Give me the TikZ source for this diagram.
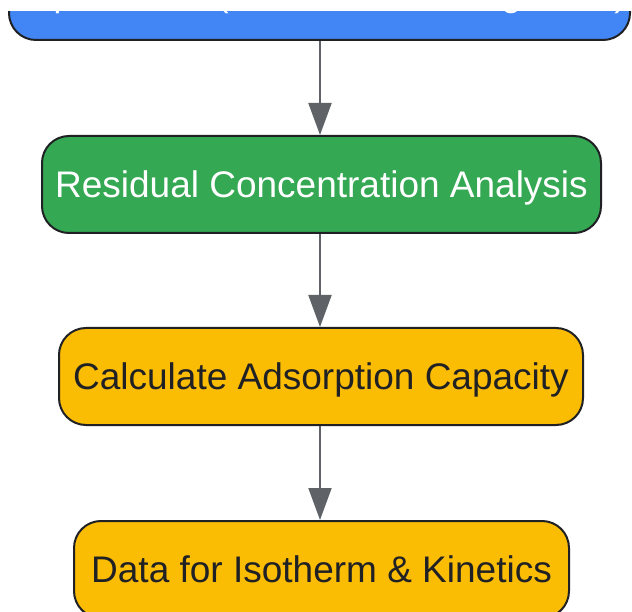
\documentclass[tikz,border=0pt]{standalone}
\usepackage{fontspec}
\setmainfont{Liberation Sans}
\usetikzlibrary{arrows.meta}
\definecolor{gblue}{HTML}{4285F4}
\definecolor{ggreen}{HTML}{34A853}
\definecolor{gyellow}{HTML}{FBBC04}
\definecolor{gdark}{HTML}{202124}
\definecolor{ggray}{HTML}{5F6368}
\tikzset{
  box/.style={draw=gdark, line width=2pt, rounded corners=27pt, inner sep=0pt,
    font=\fontsize{37}{44}\selectfont, text height=26.5pt, text depth=0pt,
    minimum height=97pt},
  conn/.style={draw=ggray, line width=2pt, -{Triangle[length=32pt,width=23pt]}}
}
\begin{document}
\begin{tikzpicture}[x=1pt,y=-1pt]
\useasboundingbox (0,0) rectangle (632,612);
\fill[white] (0,0) rectangle (632,612);
\begin{scope}
\clip (0,12) rectangle (632,612);
\node[box, fill=gblue, text=white, minimum width=621pt, minimum height=92pt,
  font=\fontsize{35}{42}\selectfont, text height=25pt] (exp) at (319.5,-6) {Experiments (Contact Time \& Agitation)};
\end{scope}
\node[box, fill=ggreen, text=white, minimum width=559pt] (res) at (321.5,184.5) {Residual Concentration Analysis};
\node[box, fill=gyellow, text=gdark, minimum width=524pt] (calc) at (321,376.5) {Calculate Adsorption Capacity};
\node[box, fill=gyellow, text=gdark, minimum width=495pt] (data) at (321.5,569.5) {Data for Isotherm \& Kinetics};
\draw[conn] (exp.south -| 320,0) -- (res.north -| 320,0);
\draw[conn] (res.south -| 320,0) -- (calc.north -| 320,0);
\draw[conn] (calc.south -| 320,0) -- (data.north -| 320,0);
\end{tikzpicture}
\end{document}
